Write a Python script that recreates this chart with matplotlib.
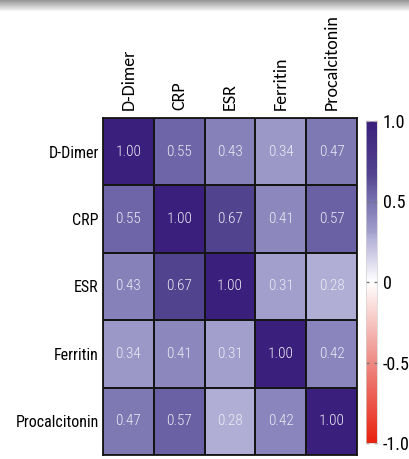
import numpy as np
import matplotlib
matplotlib.use("Agg")
import matplotlib.pyplot as plt
from matplotlib.colors import LinearSegmentedColormap, Normalize

markers = ["D-Dimer", "CRP", "ESR", "Ferritin", "Procalcitonin"]
corr = np.array([
    [1.00, 0.55, 0.43, 0.34, 0.47],
    [0.55, 1.00, 0.67, 0.41, 0.57],
    [0.43, 0.67, 1.00, 0.31, 0.28],
    [0.34, 0.41, 0.31, 1.00, 0.42],
    [0.47, 0.57, 0.28, 0.42, 1.00],
])
cbar_ticks = [1.0, 0.5, 0.0, -0.5, -1.0]
cbar_ticklabels = ["1.0", "0.5", "0", "-0.5", "-1.0"]

narrow = ["Roboto Condensed", "DejaVu Sans"]
wide = ["Carlito", "DejaVu Sans"]

# diverging red-white-purple scale over [-1, 1]
cmap = LinearSegmentedColormap.from_list("rwp", [
    (0.00, "#e8230f"),
    (0.25, "#ee8a84"),
    (0.50, "#ffffff"),
    (0.64, "#b1aed6"),
    (0.655, "#a29fcc"),
    (0.775, "#6e66a8"),
    (0.835, "#52438f"),
    (1.00, "#3b1f7c"),
])
norm = Normalize(-1, 1)

W, H = 409, 459
fig = plt.figure(figsize=(W / 100, H / 100), dpi=100)

# soft grey shading along the top edge
band = fig.add_axes([0, 1 - 12 / H, 1, 12 / H])
grad = np.linspace(0.58, 1.0, 64)[:, None]
band.imshow(np.repeat(grad, 2, axis=1), cmap="gray", vmin=0, vmax=1,
            aspect="auto", extent=[0, 1, 0, 1])
band.axis("off")

ax = fig.add_axes([103 / W, 1 - 455 / H, 254 / W, 337 / H])
n = len(markers)
ax.pcolormesh(np.arange(n + 1), np.arange(n + 1), corr, cmap=cmap, norm=norm,
              edgecolors="#151515", linewidth=1.3)
ax.set_xlim(0, n)
ax.set_ylim(n, 0)
for i in range(n):
    for j in range(n):
        ax.text(j + 0.5, i + 0.5, f"{corr[i, j]:.2f}", ha="center", va="center",
                color="#ececf4", fontsize=11, family=narrow, fontweight="light")

ax.xaxis.tick_top()
ax.set_xticks(np.arange(n) + 0.5)
ax.set_xticklabels(markers, rotation=90, family=wide, fontsize=13)
ax.set_yticks(np.arange(n) + 0.5)
ax.set_yticklabels(markers, family=narrow, fontsize=11.5)
ax.tick_params(axis="x", length=0, pad=6)
ax.tick_params(axis="y", length=0, pad=3)
for s in ax.spines.values():
    s.set_color("#151515")
    s.set_linewidth(1.3)

cax = fig.add_axes([366 / W, 1 - 443 / H, 11 / W, 322 / H])
cb = fig.colorbar(matplotlib.cm.ScalarMappable(norm=norm, cmap=cmap), cax=cax)
cb.set_ticks(cbar_ticks)
cb.set_ticklabels(cbar_ticklabels)
cb.outline.set_edgecolor("#d0d0d0")
cb.outline.set_linewidth(0.5)
cax.tick_params(axis="y", direction="in", length=2, width=1, color="#777777",
                left=True, right=True, pad=4, labelsize=13)
for t in cax.get_yticklabels():
    t.set_family(narrow)

fig.savefig("out.png", dpi=100)
